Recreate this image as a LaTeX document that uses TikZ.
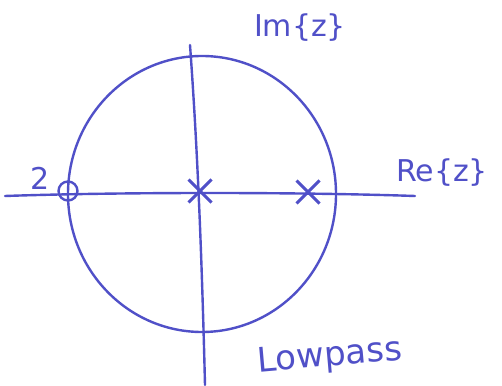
\documentclass[tikz,border=0pt]{standalone}
\usepackage{fontspec}
\setmainfont{DejaVu Sans}
\usetikzlibrary{shapes.misc}
\definecolor{pen}{RGB}{80,80,200}
\tikzset{
  penline/.style={draw=pen, line width=2.4pt, line cap=round},
  zeromark/.style={circle, draw=pen, line width=2.4pt, minimum size=19pt, inner sep=0pt},
  polemark/.style={cross out, draw=pen, line width=3pt, minimum size=20pt, inner sep=0pt},
  hand/.style={text=pen, font=\fontsize{30}{32}\selectfont}
}
\begin{document}
\begin{tikzpicture}[x=1pt,y=1pt]
\useasboundingbox (0,0) rectangle (502,385);
\fill[white] (0,0) rectangle (502,385);
% axes end points
\coordinate (hl) at (5,189);
\coordinate (hr) at (415,189);
\coordinate (vt) at (190,340);
\coordinate (vb) at (205,0);
% unit circle
\draw[penline] (202,191) ellipse [x radius=134, y radius=138];
% axes
\draw[penline] (hl) .. controls (120,193) and (300,193) .. (hr);
\draw[penline] (vt) .. controls (198,230) and (202,120) .. (vb);
% zero and poles
\node[zeromark] (z1) at (68,194) {};
\node[polemark] (p1) at (200,194) {};
\node[polemark] (p2) at (308,193) {};
% labels
\node[hand] (two) at (40,207) {2};
\node[hand] (re) at (442,212) {Re\{z\}};
\node[hand] (im) at (300,357) {Im\{z\}};
\node[hand, rotate=5, font=\fontsize{34}{36}\selectfont] (lp) at (330,28) {Lowpass};
\end{tikzpicture}
\end{document}
